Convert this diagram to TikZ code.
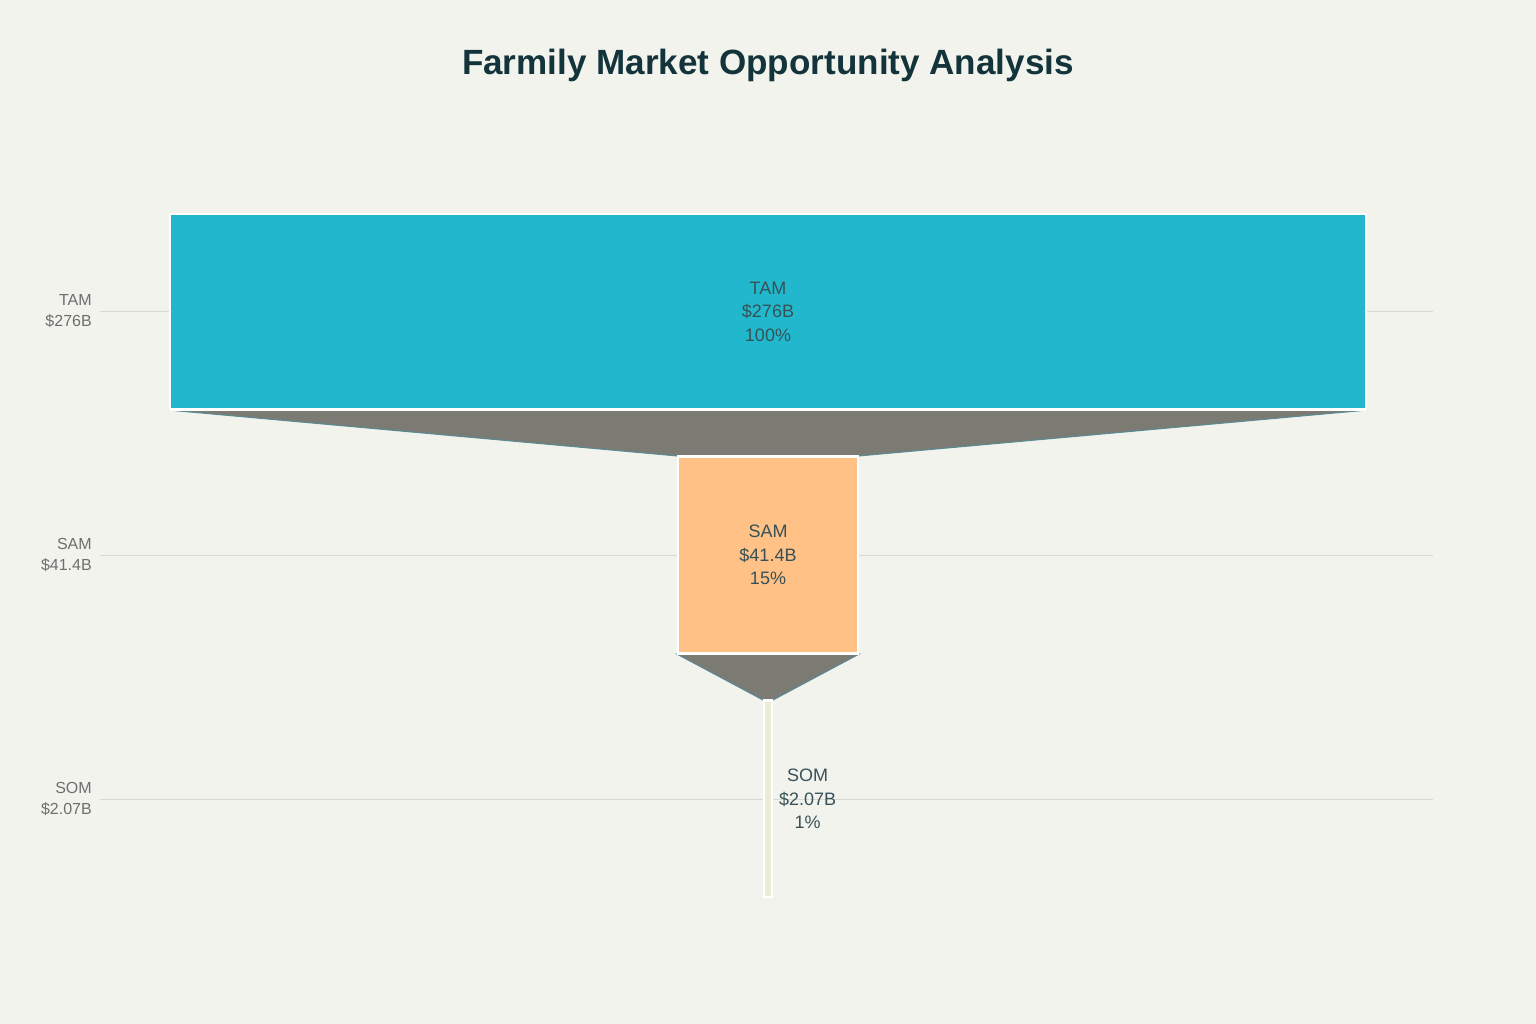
\documentclass[tikz,border=0pt]{standalone}
\usepackage{fontspec}
\setmainfont{Liberation Sans}
\usetikzlibrary{positioning}
\definecolor{bgcol}{HTML}{F3F3EE}
\definecolor{tamcol}{HTML}{21B8CD}
\definecolor{samcol}{HTML}{FFC185}
\definecolor{somcol}{HTML}{ECEBD5}
\definecolor{linkgray}{HTML}{7B7B74}
\definecolor{linkedge}{HTML}{5A8A93}
\definecolor{gridcol}{HTML}{D9D9D4}
\definecolor{axisgray}{HTML}{6E6E6E}
\definecolor{titlecol}{HTML}{13343B}
\begin{document}
\begin{tikzpicture}[x=0.75pt, y=-0.75pt, bar/.style={rectangle, draw=white, line width=1.6pt, inner sep=0pt}]
\tikzset{funnel/.style={fill=linkgray, draw=linkedge, line width=0.8pt},
  gridline/.style={draw=gridcol, line width=0.6pt},
  lbl/.style={align=right, anchor=east, inner sep=0pt, text=axisgray, font=\fontsize{12}{15.5}\selectfont},
  val/.style={align=center, text=titlecol!85, font=\fontsize{13.5}{17.6}\selectfont}}
\useasboundingbox[fill=bgcol] (0,0) rectangle (1536,1024);

\node[font=\fontsize{26.3}{30}\bfseries, text=titlecol] (t) at (768,65) {Farmily Market Opportunity Analysis};

% axis lines
\draw[gridline] (100,311) -- (1433,311);
\draw[gridline] (100,555) -- (1433,555);
\draw[gridline] (100,799) -- (1433,799);

\node[lbl] (3) at (92,311) {TAM\\\$276B};
\node[lbl] (4) at (92,555) {SAM\\\$41.4B};
\node[lbl] (5) at (92,799) {SOM\\\$2.07B};

% bars
\node[bar, fill=tamcol, minimum width=897pt, minimum height=146.25pt] (0) at (768,311.5) {};
\node[bar, fill=samcol, minimum width=135pt, minimum height=147pt] (1) at (768,555) {};
\node[bar, fill=somcol, minimum width=6pt, minimum height=147pt] (2) at (768,799) {};

\path[funnel] (0.south west) -- (0.south east) -- (1.north east) -- (1.north west) -- cycle;
\path[funnel] (1.south west) -- (1.south east) -- (2.north east) -- (2.north west) -- cycle;
\path[draw=white, line width=1.6pt] (0.south west) -- (0.south east)
  (1.north west) -- (1.north east) (1.south west) -- (1.south east) (2.north west) -- (2.north east);

\node[val] at (0) {TAM\\\$276B\\100\%};
\node[val] at (1) {SAM\\\$41.4B\\15\%};
\node[val, right=1pt of 2] (6) {SOM\\\$2.07B\\1\%};
\end{tikzpicture}
\end{document}
